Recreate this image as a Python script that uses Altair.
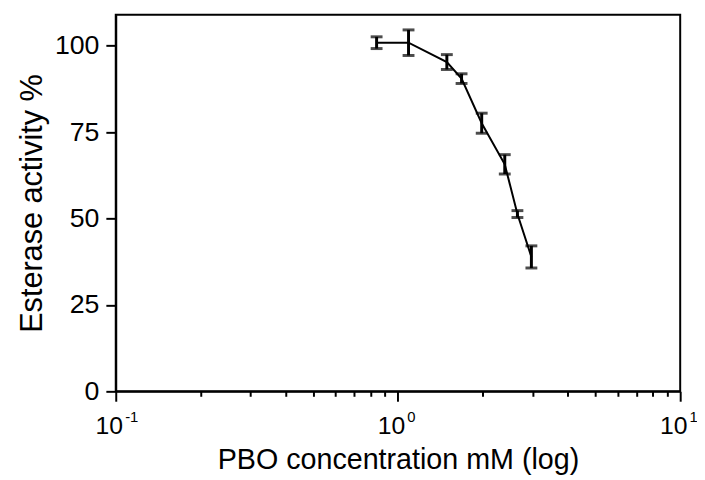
import altair as alt
import pandas as pd

# Data
conc = [0.84, 1.09, 1.49, 1.68, 1.98, 2.39, 2.65, 2.97]
activity = [100.9, 100.9, 95.3, 90.5, 77.6, 65.7, 51.3, 38.9]
err = [1.7, 3.7, 2.15, 1.4, 2.9, 2.8, 1.0, 3.2]

major_ticks = [0.1, 1, 10]
major_base = ["10", "10", "10"]
major_exp = ["-1", "0", "1"]
minor_ticks = [0.2, 0.3, 0.4, 0.5, 0.6, 0.7, 0.8, 0.9, 2, 3, 4, 5, 6, 7, 8, 9]
y_ticks = [0, 25, 50, 75, 100]

df = pd.DataFrame({"conc": conc, "activity": activity, "err": err})
df["lo"] = df["activity"] - df["err"]
df["hi"] = df["activity"] + df["err"]

FONT = "Liberation Sans"
XT = "PBO concentration mM (log)"
YT = "Esterase activity %"


def expr_for(labels):
    return " : ".join(
        f"datum.value == {v} ? '{l}'" for v, l in zip(major_ticks, labels)
    ) + " : ''"


major_test = "abs(log(datum.value)/log(10) - round(log(datum.value)/log(10))) < 0.001"

x_scale = alt.Scale(type="log", domain=[0.1, 10])
y_scale = alt.Scale(domain=[0, 109], nice=False, zero=False)

x_axis = alt.Axis(
    orient="bottom",
    values=major_ticks + minor_ticks,
    labelExpr=expr_for(major_base),
    tickSize={"condition": {"test": major_test, "value": 10}, "value": 5},
    tickWidth=2,
    domainWidth=2,
    domainColor="black",
    tickColor="black",
    labelColor="black",
    labelFontSize=25,
    labelFont=FONT,
    labelOffset=-7,
    titleFont=FONT,
    titleFontSize=29,
    titleFontWeight="normal",
    titleColor="black",
    labelPadding=13,
    titlePadding=7,
    labelFlush=False,
    labelOverlap=False,
    grid=False,
    title=XT,
)

exp_axis = alt.Axis(
    orient="bottom",
    values=major_ticks,
    labelExpr=expr_for(major_exp),
    ticks=False,
    domain=False,
    labelColor="black",
    labelFontSize=15,
    labelFont=FONT,
    labelAlign="left",
    labelOffset=9,
    labelPadding=19,
    labelFlush=False,
    labelOverlap=False,
    grid=False,
    title=None,
)

y_axis = alt.Axis(
    values=y_ticks,
    tickSize=10,
    tickWidth=2,
    domainWidth=2,
    domainColor="black",
    tickColor="black",
    labelColor="black",
    labelFontSize=27,
    labelFont=FONT,
    titleFont=FONT,
    titleFontSize=31,
    titleFontWeight="normal",
    titleColor="black",
    labelPadding=7,
    titlePadding=6,
    grid=False,
    title=YT,
)

base = alt.Chart(df)

line = base.mark_line(color="black", strokeWidth=2).encode(
    x=alt.X("conc:Q", scale=x_scale, axis=x_axis, title=XT),
    y=alt.Y("activity:Q", scale=y_scale, axis=y_axis, title=YT),
)

exp_layer = base.mark_point(opacity=0).encode(
    x=alt.X("conc:Q", scale=x_scale, axis=exp_axis),
    y=alt.Y("activity:Q", scale=y_scale, title=YT),
)

bars = base.mark_errorbar(
    ticks={"size": 12, "thickness": 3, "color": "black"},
    thickness=3,
    color="black",
).encode(
    x=alt.X("conc:Q", scale=x_scale, axis=None),
    y=alt.Y("lo:Q", scale=y_scale, title=YT),
    y2=alt.Y2("hi:Q", title=YT),
)

chart = (
    alt.layer(line, exp_layer, bars)
    .resolve_axis(x="independent")
    .properties(
        width=571,
        height=381,
        autosize=alt.AutoSizeParams(type="none"),
        padding={"left": 109, "top": 4, "right": 17, "bottom": 95},
        background="white",
    )
    .configure_view(stroke="black", strokeWidth=2)
)

chart.save("out.html", embed_options={"renderer": "svg", "actions": False})
